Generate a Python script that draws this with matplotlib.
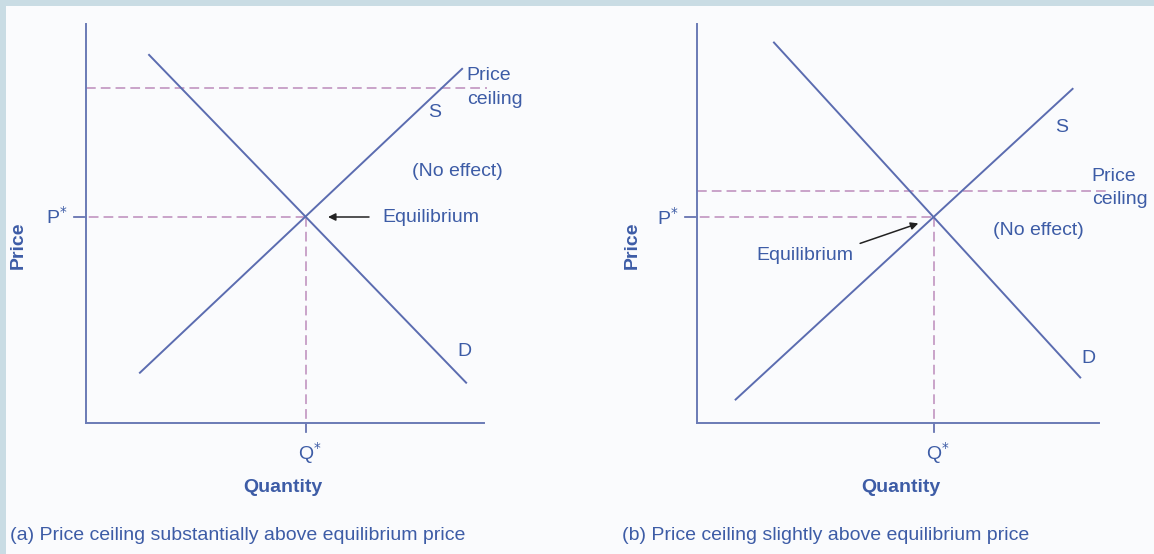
import matplotlib
matplotlib.use("Agg")
import matplotlib.pyplot as plt
from matplotlib.patches import Rectangle

plt.rcParams['font.family'] = ['Liberation Sans', 'DejaVu Sans']

# ---- data (abstract price / quantity units, axes span 0..10) ----
a_demand_q = [1.56, 9.52]
a_demand_p = [9.22, 0.99]
a_supply_q = [1.33, 9.42]
a_supply_p = [1.24, 8.87]
a_eq_q, a_eq_p = 5.49, 5.15
a_ceiling = 8.37
a_ceiling_end = 10.02

b_demand_q = [1.90, 9.59]
b_demand_p = [9.53, 1.12]
b_supply_q = [0.94, 9.40]
b_supply_p = [0.57, 8.37]
b_eq_q, b_eq_p = 5.92, 5.14
b_ceiling = 5.80
b_ceiling_end = 10.24

captions = ["(a) Price ceiling substantially above equilibrium price",
            "(b) Price ceiling slightly above equilibrium price"]

# ---- styles ----
W, H = 1154, 554
TXT = '#3d5ca6'
CURVE = '#5b6cb0'
AXC = '#6b7bb6'
DASH = '#c9a3c9'
FS = 14
dash_style = (0, (5, 2.6))

fig = plt.figure(figsize=(W / 100, H / 100), dpi=100)
fig.patch.set_facecolor('#c9dce4')
fig.patches.append(Rectangle((6 / W, 0), 1, (H - 6) / H, transform=fig.transFigure,
                             facecolor='#fafbfd', edgecolor='none', zorder=-10))


def make_axes(left_px):
    ax = fig.add_axes([left_px / W, (H - 423) / H, 400 / W, 400 / H])
    ax.set_zorder(1)
    ax.set_xlim(0, 10)
    ax.set_ylim(0, 10)
    ax.patch.set_alpha(0)
    for s in ['top', 'right']:
        ax.spines[s].set_visible(False)
    for s in ['left', 'bottom']:
        ax.spines[s].set_color(AXC)
        ax.spines[s].set_linewidth(1.4)
    ax.spines['left'].set_bounds(0, 9.97)
    ax.set_xticks([])
    ax.set_yticks([])
    return ax


def draw_panel(ax, dq, dp, sq, sp, eq_q, eq_p, ceil, ceil_end, xaxis_end):
    ax.spines['bottom'].set_bounds(0, xaxis_end)
    ax.plot([0, ceil_end], [ceil, ceil], color=DASH, lw=1.4, ls=dash_style, clip_on=False)
    ax.plot([-0.3, eq_q], [eq_p, eq_p], color=DASH, lw=1.4, ls=dash_style, clip_on=False)
    ax.plot([eq_q, eq_q], [eq_p, -0.22], color=DASH, lw=1.4, ls=dash_style, clip_on=False)
    ax.plot([-0.3, 0], [eq_p, eq_p], color=AXC, lw=1.3, clip_on=False)
    ax.plot([eq_q, eq_q], [0, -0.22], color=AXC, lw=1.3, clip_on=False)
    ax.plot(dq, dp, color=CURVE, lw=1.4, clip_on=False, solid_capstyle='butt')
    ax.plot(sq, sp, color=CURVE, lw=1.4, clip_on=False, solid_capstyle='butt')
    ax.text(-0.47, eq_p, 'P$^{*}$', color=TXT, fontsize=FS, ha='right', va='center')
    ax.text(eq_q + 0.1, -0.75, 'Q$^{*}$', color=TXT, fontsize=FS, ha='center', va='center')


# panel (a)
ax1 = make_axes(86)
draw_panel(ax1, a_demand_q, a_demand_p, a_supply_q, a_supply_p, a_eq_q, a_eq_p,
           a_ceiling, a_ceiling_end, 9.95)
ax1.text(-1.69, 4.45, 'Price', rotation=90, color=TXT, fontsize=FS, fontweight='bold',
         ha='center', va='center')
ax1.text(4.93, -1.6, 'Quantity', color=TXT, fontsize=FS, fontweight='bold', ha='center', va='center')
ax1.text(9.52, 8.68, 'Price', color=TXT, fontsize=FS, ha='left', va='center')
ax1.text(9.52, 8.10, 'ceiling', color=TXT, fontsize=FS, ha='left', va='center')
ax1.text(8.725, 7.76, 'S', color=TXT, fontsize=FS, ha='center', va='center')
ax1.text(8.14, 6.275, '(No effect)', color=TXT, fontsize=FS, ha='left', va='center')
ax1.text(7.42, a_eq_p, 'Equilibrium', color=TXT, fontsize=FS, ha='left', va='center')
ax1.text(9.45, 1.78, 'D', color=TXT, fontsize=FS, ha='center', va='center')
ax1.annotate('', xy=(6.05, a_eq_p), xytext=(7.075, a_eq_p),
             arrowprops=dict(arrowstyle='-|>', color='#222222', lw=1.1,
                             mutation_scale=11, shrinkA=0, shrinkB=0))

# panel (b)
ax2 = make_axes(697.3)
draw_panel(ax2, b_demand_q, b_demand_p, b_supply_q, b_supply_p, b_eq_q, b_eq_p,
           b_ceiling, b_ceiling_end, 10.03)
ax2.text(-1.62, 4.435, 'Price', rotation=90, color=TXT, fontsize=FS, fontweight='bold',
         ha='center', va='center')
ax2.text(5.09, -1.6, 'Quantity', color=TXT, fontsize=FS, fontweight='bold', ha='center', va='center')
ax2.text(9.86, 6.16, 'Price', color=TXT, fontsize=FS, ha='left', va='center')
ax2.text(9.86, 5.58, 'ceiling', color=TXT, fontsize=FS, ha='left', va='center')
ax2.text(9.11, 7.39, 'S', color=TXT, fontsize=FS, ha='center', va='center')
ax2.text(7.40, 4.81, '(No effect)', color=TXT, fontsize=FS, ha='left', va='center')
ax2.text(1.485, 4.175, 'Equilibrium', color=TXT, fontsize=FS, ha='left', va='center')
ax2.text(9.775, 1.62, 'D', color=TXT, fontsize=FS, ha='center', va='center')
ax2.annotate('', xy=(5.525, 4.99), xytext=(4.07, 4.49),
             arrowprops=dict(arrowstyle='-|>', color='#222222', lw=1.1,
                             mutation_scale=11, shrinkA=0, shrinkB=0))

# captions
fig.text(10 / W, 1 - 535 / H, captions[0], color=TXT, fontsize=FS, ha='left', va='center')
fig.text(622 / W, 1 - 535 / H, captions[1], color=TXT, fontsize=FS, ha='left', va='center')

fig.savefig('out.png', dpi=100, facecolor=fig.get_facecolor())
